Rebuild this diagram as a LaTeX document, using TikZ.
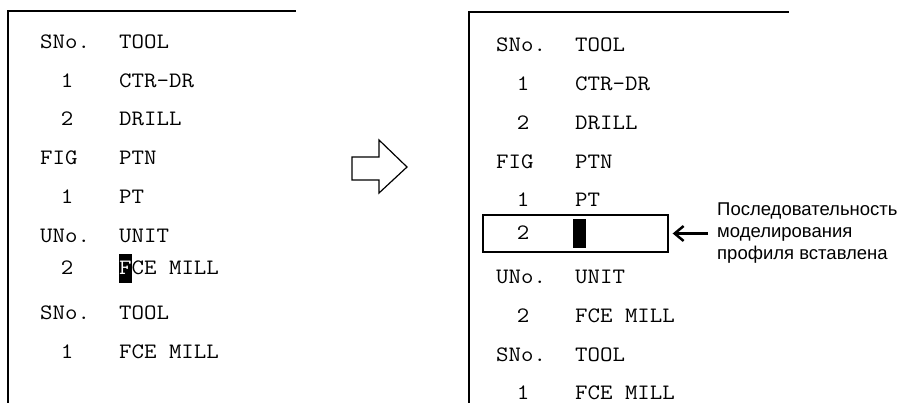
\documentclass[tikz,border=0pt]{standalone}
\usepackage{fontspec}
\setmainfont{Liberation Sans}
\newfontfamily\monofnt{Latin Modern Mono}[FakeStretch=1.1]
\usetikzlibrary{arrows.meta}
\tikzset{
  frame/.style={line width=1.5pt, line cap=rect},
  mono/.style={font=\monofnt\fontsize{22}{22}\selectfont, inner sep=0pt, anchor=base west},
  num/.style={font=\monofnt\fontsize{22}{22}\selectfont, inner sep=0pt, anchor=base},
  hl/.style={fill=black, draw=none},
  rowbox/.style={draw, line width=1.3pt, minimum width=185pt, minimum height=37pt, inner sep=0pt},
  note/.style={font=\fontsize{18.5}{22}\selectfont, align=left, anchor=west, inner sep=0pt},
  arr/.style={line width=2.5pt, -{Straight Barb[length=9pt,width=15pt,line width=2.5pt]}},
  blockarrow/.style={draw, line width=1.2pt, fill=white, line join=miter}
}
\begin{document}
\begin{tikzpicture}[x=1pt,y=-1pt]
\useasboundingbox (0,0) rectangle (899,403);
% left frame
\draw[frame] (295,11) -- (8,11) -- (8,403);
% left highlight cursor
\fill[hl] (119,254) rectangle (132,283);
% left text
\node[mono] (l1a) at (40,48.5) {SNo.};
\node[mono] (l1b) at (119,48.5) {TOOL};
\node[num]  (l2a) at (67,87.5) {1};
\node[mono] (l2b) at (119,87.5) {CTR-DR};
\node[num]  (l3a) at (67,125.5) {2};
\node[mono] (l3b) at (119,125.5) {DRILL};
\node[mono] (l4a) at (40,164.5) {FIG};
\node[mono] (l4b) at (119,164.5) {PTN};
\node[num]  (l5a) at (67,203.5) {1};
\node[mono] (l5b) at (119,203.5) {PT};
\node[mono] (l6a) at (40,242.5) {UNo.};
\node[mono] (l6b) at (119,242.5) {UNIT};
\node[num]  (l7a) at (67,274.5) {2};
\node[mono] (l7b) at (119,274.5) {{\color{white}F}CE MILL};
\node[mono] (l8a) at (40,319.5) {SNo.};
\node[mono] (l8b) at (119,319.5) {TOOL};
\node[num]  (l9a) at (67,358.5) {1};
\node[mono] (l9b) at (119,358.5) {FCE MILL};
% block arrow
\draw[blockarrow] (352,157) -- (379,157) -- (379,140) -- (407,167) -- (379,193) -- (379,180) -- (352,180) -- cycle;
% right frame
\draw[frame] (788,12) -- (469,12) -- (469,403);
% right text
\node[mono] (r1a) at (496,51.5) {SNo.};
\node[mono] (r1b) at (575,51.5) {TOOL};
\node[num]  (r2a) at (523,90.5) {1};
\node[mono] (r2b) at (575,90.5) {CTR-DR};
\node[num]  (r3a) at (523,129.5) {2};
\node[mono] (r3b) at (575,129.5) {DRILL};
\node[mono] (r4a) at (496,168.5) {FIG};
\node[mono] (r4b) at (575,168.5) {PTN};
\node[num]  (r5a) at (523,206.5) {1};
\node[mono] (r5b) at (575,206.5) {PT};
\node[rowbox] (box) at (575.5,233.5) {};
\node[num]  (r6a) at (523,239.5) {2};
\fill[hl] (573,219) rectangle (586,248);
\node[mono] (r7a) at (496,283.5) {UNo.};
\node[mono] (r7b) at (575,283.5) {UNIT};
\node[num]  (r8a) at (523,322.5) {2};
\node[mono] (r8b) at (575,322.5) {FCE MILL};
\node[mono] (r9a) at (496,361.5) {SNo.};
\node[mono] (r9b) at (575,361.5) {TOOL};
\node[num]  (r10a) at (523,399.5) {1};
\node[mono] (r10b) at (575,399.5) {FCE MILL};
% note
\node[note] (lbl) at (717,233) {Последовательность\\моделирования\\профиля вставлена};
\draw[arr, shorten <=9pt, shorten >=4pt] (lbl.west |- box.east) -- (box.east);
\end{tikzpicture}
\end{document}
